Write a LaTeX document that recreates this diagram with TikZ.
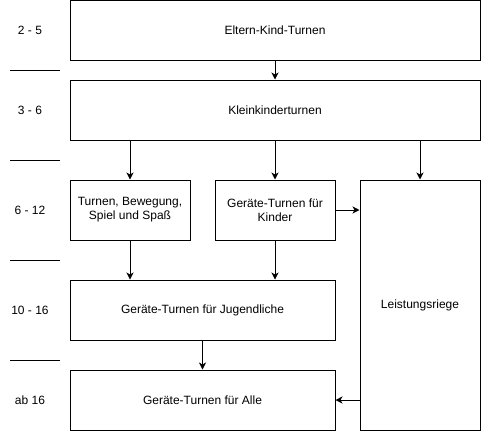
\documentclass[tikz,border=0pt]{standalone}
\usepackage{fontspec}
\setmainfont{Liberation Sans}
\usetikzlibrary{arrows.meta}
\tikzset{every node/.style={font=\fontsize{12}{14}\selectfont},
 group/.style={draw,line width=1pt,inner sep=0pt,align=center},
 age/.style={inner sep=0pt},
 flow/.style={draw,line width=1pt,-{Stealth[length=7pt,width=7pt,inset=2pt]}},
 }

\begin{document}
\begin{tikzpicture}[x=1pt,y=-1pt]
        \useasboundingbox (0,0) rectangle (481,432);
        \node[group,minimum width=410,minimum height=60] (eltern) at (275,30.5) {Eltern-Kind-Turnen};
        \node[group,minimum width=410,minimum height=60] (klein) at (275,110) {Kleinkinderturnen};
        \node[group,minimum width=120,minimum height=60] (spiel) at (130,210) {Turnen, Bewegung,\\Spiel und Spaß};
        \node[group,minimum width=120,minimum height=60] (kinder) at (275,210) {Geräte-Turnen für\\Kinder};
        \node[group,minimum width=120,minimum height=250] (leist) at (420,305) {Leistungsriege};
        \node[group,minimum width=265,minimum height=60] (jugend) at (202.5,310) {Geräte-Turnen für Jugendliche};
        \node[group,minimum width=265,minimum height=60] (alle) at (202.5,400) {Geräte-Turnen für Alle};
        \node[age] (a1) at (30,30) {2 - 5};
        \node[age] (a2) at (30,110) {3 - 6};
        \node[age] (a3) at (30,210) {6 - 12};
        \node[age] (a4) at (30,310) {10 - 16};
        \node[age] (a5) at (30,400) {ab 16};
        \foreach \y in {70,160,260,360}
            \draw[line width=1pt] (10,\y) -- (60,\y);
        \draw[flow] (eltern) -- (klein);
        \draw[flow] (spiel.north |- klein.south) -- (spiel.north);
        \draw[flow] (kinder.north |- klein.south) -- (kinder.north);
        \draw[flow] (leist.north |- klein.south) -- (leist.north);
        \draw[flow] (kinder.east) -- (kinder.east -| leist.west);
        \draw[flow] (spiel.south) -- (spiel.south |- jugend.north);
        \draw[flow] (kinder.south) -- (kinder.south |- jugend.north);
        \draw[flow] (jugend) -- (alle);
        \draw[flow] (leist.west |- alle.east) -- (alle.east);
    \end{tikzpicture}
\end{document}
